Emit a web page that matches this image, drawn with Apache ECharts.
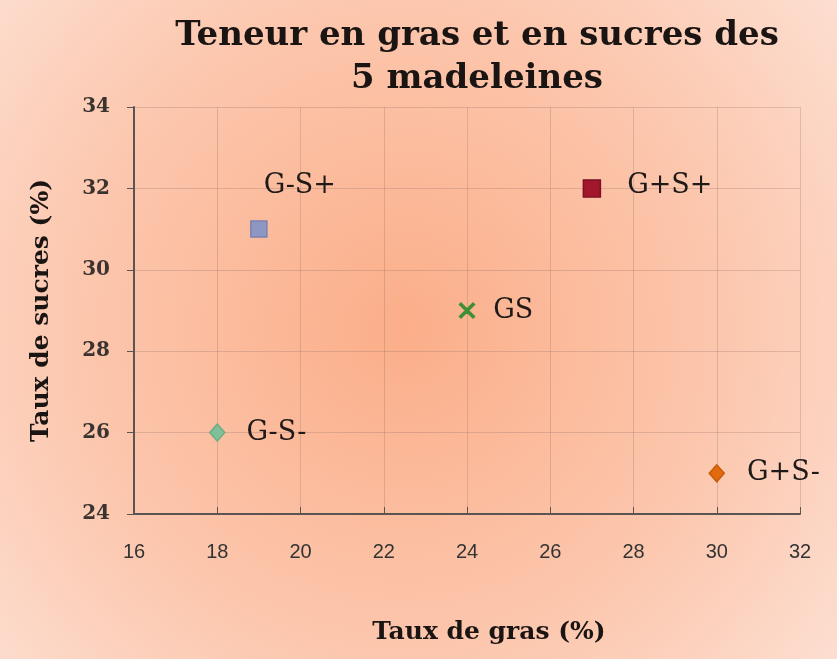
<!DOCTYPE html>
<html>
<head>
<meta charset="utf-8">
<script src="https://cdn.jsdelivr.net/npm/echarts@6/dist/echarts.min.js"></script>
<style>
  html, body { margin: 0; padding: 0; }
  #chart { width: 837px; height: 659px; }
</style>
</head>
<body>
<div id="chart"></div>
<script>
// données des madeleines
var names = ['G-S+', 'G+S+', 'GS', 'G-S-', 'G+S-'];
var grasValues = [19, 27, 24, 18, 30];      // Taux de gras (%)
var sucresValues = [31, 32, 29, 26, 25];    // Taux de sucres (%)

// styles des points
var pointColors = ['#8e96c2', '#a3172d', '#3f8f35', '#80bf98', '#e2690e'];
var pointBorders = ['#7a82b0', '#7e0f21', '#3f8f35', '#6eae87', '#c85a08'];
var crossPath = 'path://M1,0 L5,4 L9,0 L10,1 L6,5 L10,9 L9,10 L5,6 L1,10 L0,9 L4,5 L0,1 Z';
var pointSymbols = ['rect', 'rect', crossPath, 'diamond', 'diamond'];
var pointSizes = [[16, 16], [17, 17], [15, 15], [15, 17], [15, 17]];
var labelOffsets = [[-22, -43], [8, -2], [0, 0], [3, 0], [4, 0]];

var serif = '"DejaVu Serif", "Liberation Serif", serif';

var series = [];
for (var i = 0; i < names.length; i++) {
  series.push({
    name: names[i],
    type: 'scatter',
    symbol: pointSymbols[i],
    symbolSize: pointSizes[i],
    itemStyle: {
      color: pointColors[i],
      borderColor: pointBorders[i],
      borderWidth: 1.5,
      opacity: 1
    },
    label: {
      show: true,
      position: 'right',
      distance: 18,
      offset: labelOffsets[i],
      formatter: names[i],
      fontFamily: serif,
      fontSize: 27,
      color: '#1f1a18'
    },
    data: [[grasValues[i], sucresValues[i]]]
  });
}

var gridColor = 'rgba(130, 95, 90, 0.24)';

var chart = echarts.init(document.getElementById('chart'));
chart.setOption({
  backgroundColor: new echarts.graphic.RadialGradient(0.48, 0.5, 0.9, [
    { offset: 0, color: '#fbae89' },
    { offset: 0.55, color: '#fcc7ae' },
    { offset: 1, color: '#fde3d8' }
  ]),
  animation: false,
  title: {
    text: 'Teneur en gras et en sucres des\n5 madeleines',
    left: 472,
    top: 10,
    textAlign: 'center',
    textStyle: {
      fontFamily: serif,
      fontWeight: 'bold',
      fontSize: 34,
      lineHeight: 43,
      color: '#1a1412'
    }
  },
  grid: { left: 134, right: 37, top: 107, bottom: 145 },
  xAxis: {
    type: 'value',
    min: 16, max: 32, interval: 2,
    name: 'Taux de gras (%)',
    nameLocation: 'middle',
    nameGap: 106,
    nameTextStyle: { fontFamily: serif, fontWeight: 'bold', fontSize: 25, color: '#1a1412', padding: [0, 0, 0, 44] },
    axisLine: { onZero: false, lineStyle: { color: '#5a5552', width: 2 } },
    axisTick: { show: true, inside: true, length: 7, lineStyle: { color: '#5a5552' } },
    axisLabel: { margin: 28, fontFamily: '"Liberation Sans Narrow", "Liberation Sans", sans-serif', fontSize: 20, color: '#333' },
    splitLine: { show: true, lineStyle: { color: gridColor } }
  },
  yAxis: {
    type: 'value',
    min: 24, max: 34, interval: 2,
    name: 'Taux de sucres (%)',
    nameLocation: 'middle',
    nameGap: 80,
    nameTextStyle: { fontFamily: serif, fontWeight: 'bold', fontSize: 25, color: '#1a1412' },
    axisLine: { show: true, lineStyle: { color: '#5a5552', width: 2 } },
    axisTick: { show: true, length: 7, lineStyle: { color: '#5a5552' } },
    axisLabel: { margin: 24, fontFamily: serif, fontWeight: 'bold', fontSize: 20, color: '#3a3330' },
    splitLine: { show: true, lineStyle: { color: gridColor } }
  },
  series: series
});
</script>
</body>
</html>
